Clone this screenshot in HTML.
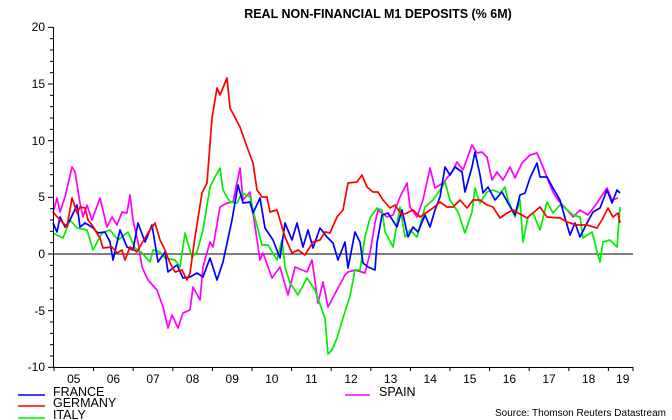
<!DOCTYPE html>
<html><head><meta charset="utf-8"><style>
body{margin:0;background:#fff}
svg{display:block;font-family:"Liberation Sans",Arial,sans-serif}
</style></head><body>
<svg width="672" height="420" xmlns="http://www.w3.org/2000/svg">
<text x="378" y="18" text-anchor="middle" font-size="12.5" font-weight="bold">REAL NON-FINANCIAL M1 DEPOSITS (% 6M)</text>
<g id="yax" stroke="#000" stroke-width="1"></g>
<g font-size="12" text-anchor="end">
<text x="45" y="31">20</text><text x="45" y="88">15</text><text x="45" y="145">10</text><text x="45" y="201">5</text><text x="45" y="258">0</text><text x="45" y="315">-5</text><text x="45" y="371">-10</text>
</g>
<line x1="53" y1="254" x2="633" y2="254" stroke="#000" stroke-width="1"/>
<g font-size="12" text-anchor="middle" id="xl"></g>
<g fill="none" stroke-width="1.7" stroke-linejoin="round">
<polyline stroke="#ff00ff" points="53,213 57,198 60,212 65,197 72,167 75,172 80,203 83,217 87,205 92,220 100,198 107,227 112,217 117,225 122,212 127,213 130,195 133,220 138,242 142,267 148,280 157,290 163,307 168,328 172,315 178,328 183,313 190,310 193,287 200,300 203,267 210,242 213,247 220,207 227,203 233,202 240,168 243,200 250,192 253,213 260,260 263,253 272,278 280,267 288,295 295,267 307,272 312,260 318,303 323,282 328,307 338,288 345,275 348,272 355,270 365,273 370,253 375,223 378,210 387,217 393,215 400,197 407,183 410,207 417,217 423,200 430,168 435,188 443,183 452,172 457,162 463,170 472,145 477,153 482,152 487,157 492,180 497,172 503,180 510,167 515,178 522,163 530,155 537,153 543,167 548,180 553,192 558,200 567,210 573,217 580,210 588,215 597,203 607,188 612,200 618,198"/>
<polyline stroke="#00ee00" points="53,233 63,238 70,220 77,228 87,230 93,250 102,233 110,230 118,240 128,232 135,248 142,253 150,262 153,250 160,252 165,258 175,260 180,267 185,233 192,257 197,252 203,230 210,187 215,177 220,168 223,190 230,202 237,203 242,193 250,197 255,218 262,245 268,245 277,260 282,240 285,267 290,283 298,295 307,278 315,290 322,310 325,318 328,354 332,350 337,338 343,318 350,296 355,270 360,270 365,237 370,218 377,208 382,210 385,232 393,247 400,207 405,237 410,230 417,237 425,207 433,200 440,190 445,182 450,200 458,212 465,233 472,212 475,188 480,203 487,192 493,190 500,193 505,187 508,200 515,217 520,200 523,242 528,217 533,213 540,230 547,202 553,213 560,205 565,208 573,215 580,217 583,238 592,232 598,255 600,262 603,242 610,240 617,247 620,207"/>
<polyline stroke="#0000ff" points="53,223 57,232 60,217 65,227 70,220 77,205 80,227 85,223 92,227 98,233 105,232 110,242 113,260 120,230 127,247 133,250 138,223 145,242 152,225 158,262 165,252 168,272 177,265 183,278 190,277 197,273 203,277 210,258 217,280 223,262 232,220 238,185 243,203 250,202 253,213 260,198 265,228 273,240 280,258 285,223 292,240 297,223 303,247 308,230 313,248 320,228 327,237 333,243 338,260 345,242 348,268 355,232 360,242 363,263 368,267 375,270 377,243 382,215 388,213 397,227 402,210 408,237 413,227 418,232 425,215 430,227 435,210 440,197 445,167 450,175 455,167 462,172 465,192 472,167 475,152 480,175 483,193 488,187 495,200 502,192 508,203 515,215 520,195 525,193 530,178 537,163 540,177 547,177 553,188 560,200 565,218 570,235 575,223 580,237 587,223 593,212 600,208 607,190 612,203 617,190 620,193"/>
<polyline stroke="#ff0000" points="53,212 60,220 67,227 72,198 77,213 80,207 85,208 88,220 92,225 100,238 103,248 112,247 117,253 122,250 125,260 130,247 137,252 142,243 148,233 155,223 160,240 165,250 170,263 175,272 182,270 187,280 190,273 195,237 202,193 207,183 212,118 217,88 220,95 227,78 230,108 240,127 247,147 253,163 257,190 262,197 267,197 270,212 277,210 280,220 285,237 292,253 298,250 305,255 313,242 320,240 325,232 330,233 337,217 343,210 348,183 357,182 362,175 367,187 373,192 378,192 383,200 390,208 395,205 402,215 407,213 413,210 420,217 433,208 440,202 447,207 453,207 460,200 467,208 473,200 480,200 487,205 493,207 500,218 507,213 513,210 527,218 533,213 540,207 547,217 560,218 567,222 577,225 587,225 597,228 603,218 608,208 613,217 618,213 620,223"/>
</g>
<line x1="53.5" y1="27" x2="53.5" y2="367" stroke="#000"/>
<line x1="53" y1="367.5" x2="633" y2="367.5" stroke="#000"/>
<g font-size="12.5">
<line x1="18" y1="395" x2="45" y2="395" stroke="#0000ff" stroke-width="1.5"/><text x="53" y="396">FRANCE</text>
<line x1="18" y1="406" x2="45" y2="406" stroke="#ff0000" stroke-width="1.5"/><text x="53" y="407">GERMANY</text>
<line x1="18" y1="418" x2="45" y2="418" stroke="#00ee00" stroke-width="1.5"/><text x="53" y="419">ITALY</text>
<line x1="345" y1="395" x2="370" y2="395" stroke="#ff00ff" stroke-width="1.5"/><text x="379" y="396">SPAIN</text>
</g>
<text x="666" y="416" text-anchor="end" font-size="10">Source: Thomson Reuters Datastream</text>
<script>
var ns="http://www.w3.org/2000/svg",g=document.getElementById("yax");
for(var v=-10;v<=20;v++){var y=254-v*11.333;var l=document.createElementNS(ns,"line");l.setAttribute("x1",v%5==0?48:50);l.setAttribute("x2",53);l.setAttribute("y1",y);l.setAttribute("y2",y);g.appendChild(l);}
var xl=document.getElementById("xl");
for(var i=0;i<=15;i++){var x=i<15?54+i*39.6:633;var l=document.createElementNS(ns,"line");l.setAttribute("x1",x);l.setAttribute("x2",x);l.setAttribute("y1",367);l.setAttribute("y2",371);l.setAttribute("stroke","#000");g.appendChild(l);
if(i<15){var t=document.createElementNS(ns,"text");var cx=i<14?x+19.8:(x+633)/2+2;t.setAttribute("x",cx);t.setAttribute("y",383);t.textContent=String(5+i).padStart(2,"0");xl.appendChild(t);}}
</script>
</svg>
</body></html>
